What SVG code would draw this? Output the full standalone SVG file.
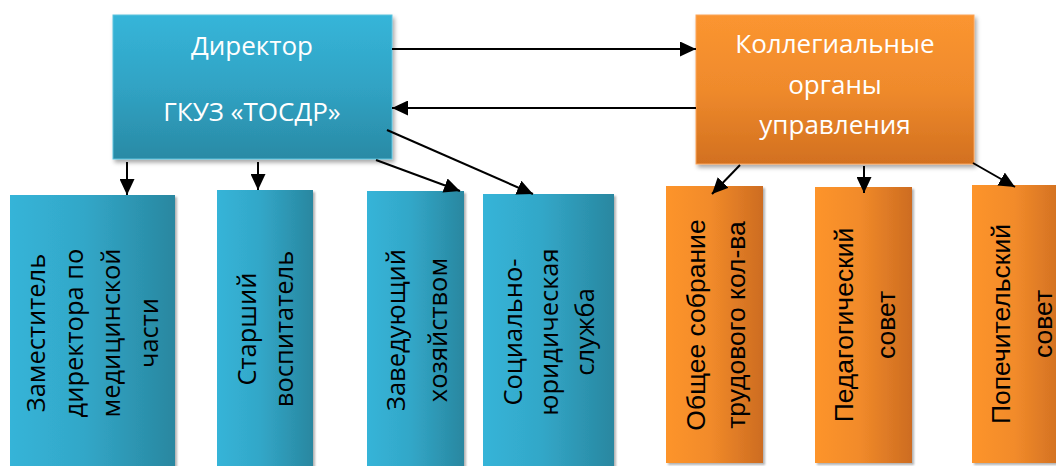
<svg xmlns="http://www.w3.org/2000/svg" width="1056" height="466" viewBox="0 0 1056 466">
<defs>
<linearGradient id="gBlueV" x1="0" y1="0" x2="0" y2="1"><stop offset="0" stop-color="#36b5d9"/><stop offset="0.5" stop-color="#30a3c4"/><stop offset="1" stop-color="#2a8aa5"/></linearGradient>
<linearGradient id="gBlueH" x1="0" y1="0" x2="1" y2="0"><stop offset="0" stop-color="#36b4d8"/><stop offset="0.45" stop-color="#32a7c8"/><stop offset="1" stop-color="#2987a0"/></linearGradient>
<linearGradient id="gOrV" x1="0" y1="0" x2="0" y2="1"><stop offset="0" stop-color="#fb9530"/><stop offset="0.5" stop-color="#ef8a2c"/><stop offset="1" stop-color="#d2701f"/></linearGradient>
<linearGradient id="gOrH" x1="0" y1="0" x2="1" y2="0"><stop offset="0" stop-color="#fd942c"/><stop offset="0.45" stop-color="#f28b2a"/><stop offset="1" stop-color="#cd6c21"/></linearGradient>
<filter id="sh" x="-10%" y="-10%" width="125%" height="125%"><feDropShadow dx="2" dy="3" stdDeviation="2" flood-color="#000" flood-opacity="0.35"/></filter>
<filter id="sh2" x="-10%" y="-10%" width="125%" height="125%"><feDropShadow dx="2" dy="2" stdDeviation="0.8" flood-color="#000" flood-opacity="0.3"/></filter>
<marker id="ah" markerUnits="userSpaceOnUse" markerWidth="16" markerHeight="15" refX="16" refY="7.5" orient="auto"><path d="M0,0 L16,7.5 L0,15 z" fill="#000"/></marker>
</defs>
<style>
.top{font-family:"Open Sans","Noto Sans",sans-serif;font-size:26px;fill:#fff;text-anchor:middle}
.vb{font-family:"Open Sans","Noto Sans",sans-serif;font-size:25.5px;fill:#000;text-anchor:middle}
.vo{font-family:"Liberation Sans",Arial,sans-serif;font-size:26.5px;fill:#000;text-anchor:middle}
.c{stroke:#000;stroke-width:2;fill:none;marker-end:url(#ah)}
</style>
<g id="director"><rect x="113" y="15" width="279" height="144" fill="url(#gBlueV)" stroke="#5cc3de" stroke-width="1" filter="url(#sh)"/>
<text class="top" x="252" y="55">Директор</text><text class="top" x="252" y="121">ГКУЗ «ТОСДР»</text></g>
<g id="collegial"><rect x="696" y="15" width="278" height="149" fill="url(#gOrV)" stroke="#fba55a" stroke-width="1" filter="url(#sh)"/>
<text class="top" x="835" y="53">Коллегиальные</text><text class="top" x="835" y="94">органы</text><text class="top" x="835" y="134">управления</text></g>
<g id="deputy"><rect x="10" y="195" width="165" height="280" fill="url(#gBlueH)" filter="url(#sh2)"/>
<text class="vb" transform="translate(45,333) rotate(-90)"><tspan x="0" y="0">Заместитель</tspan><tspan x="0" y="37.7">директора по</tspan><tspan x="0" y="75.3">медицинской</tspan><tspan x="0" y="113">части</tspan></text></g>
<g id="senior"><rect x="217" y="190" width="96" height="285" fill="url(#gBlueH)" filter="url(#sh2)"/>
<text class="vb" transform="translate(256,329) rotate(-90)"><tspan x="0" y="0">Старший</tspan><tspan x="0" y="37">воспитатель</tspan></text></g>
<g id="household"><rect x="367" y="191" width="97" height="284" fill="url(#gBlueH)" filter="url(#sh2)"/>
<text class="vb" transform="translate(405,330) rotate(-90)"><tspan x="0" y="0">Заведующий</tspan><tspan x="0" y="42">хозяйством</tspan></text></g>
<g id="social"><rect x="483" y="194" width="131" height="281" fill="url(#gBlueH)" filter="url(#sh2)"/>
<text class="vb" transform="translate(522,332) rotate(-90)"><tspan x="0" y="0">Социально-</tspan><tspan x="0" y="36">юридическая</tspan><tspan x="0" y="72">служба</tspan></text></g>
<g id="assembly"><rect x="666" y="186" width="97" height="277" fill="url(#gOrH)" filter="url(#sh2)"/>
<text class="vo" transform="translate(705,325) rotate(-90)"><tspan x="0" y="0">Общее собрание</tspan><tspan x="0" y="40">трудового кол-ва</tspan></text></g>
<g id="pedagogical"><rect x="815" y="187" width="97" height="276" fill="url(#gOrH)" filter="url(#sh2)"/>
<text class="vo" transform="translate(853,325) rotate(-90)"><tspan x="0" y="0">Педагогический</tspan><tspan x="0" y="42">совет</tspan></text></g>
<g id="trustees"><rect x="972" y="185" width="95" height="278" fill="url(#gOrH)" filter="url(#sh2)"/>
<text class="vo" transform="translate(1010,324) rotate(-90)"><tspan x="0" y="0">Попечительский</tspan><tspan x="0" y="42">совет</tspan></text></g>
<g id="connectors">
<path class="c" d="M392,49 L696,49"/>
<path class="c" d="M696,108 L392,108"/>
<path class="c" d="M127,162 L127,195"/>
<path class="c" d="M258,162 L258,190"/>
<path class="c" d="M376,160 L460,191"/>
<path class="c" d="M387,130 L533,194"/>
<path class="c" d="M740,165 L712,194"/>
<path class="c" d="M864,166 L864,193"/>
<path class="c" d="M973,163 L1015,187"/>
</g>
</svg>
